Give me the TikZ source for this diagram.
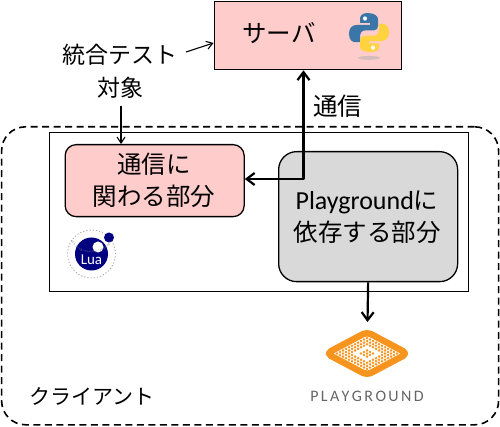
\documentclass[tikz,border=0pt]{standalone}
\usepackage{fontspec}
\setmainfont{Noto Sans CJK JP}
\newfontfamily\latinfont{Carlito}
\usetikzlibrary{arrows.meta,shapes.geometric,decorations.text}
\definecolor{pinkbox}{HTML}{FFCCCC}
\definecolor{graybox}{HTML}{D9D9D9}
\definecolor{luablue}{HTML}{000080}
\definecolor{pgorange}{HTML}{F7941E}
\definecolor{pyblue}{HTML}{3B76A8}
\definecolor{pyyellow}{HTML}{FFD33F}
\tikzset{
  lbl/.style={align=center,font=\fontsize{24.5}{32}\selectfont,text=black,inner sep=0pt},
  thinarrow/.style={draw=black,line width=1.1pt,-{Straight Barb[length=6pt,width=8pt]}},
  thickarrow/.style={draw=black,line width=2.2pt,-{Straight Barb[length=8pt,width=12pt]}},
  bothwide/.style={draw=black,line width=2.2pt,line join=round,{Straight Barb[length=8pt,width=12pt]}-{Straight Barb[length=8pt,width=12pt]}},
  boxline/.style={draw=black,line width=1.3pt},
}
\begin{document}
\begin{tikzpicture}[x=1pt,y=-1pt]
\useasboundingbox (0,0) rectangle (500,427);
\fill[white] (0,0) rectangle (500,427);
% client region
\node[boxline,dash pattern=on 7pt off 4.5pt,line width=1.6pt,rounded corners=24pt,minimum width=497pt,minimum height=298pt,anchor=north west,inner sep=0pt] (client) at (0.8,126) {};
\node[boxline,minimum width=419pt,minimum height=159pt,anchor=north west,inner sep=0pt] (inner) at (49,132) {};
% server
\node[boxline,fill=pinkbox,minimum width=187pt,minimum height=68pt,anchor=north west,inner sep=0pt] (server) at (213.5,1) {};
\node[lbl] (servertext) at (279,33) {サーバ};
% comm part
\node[boxline,fill=pinkbox,rounded corners=11pt,minimum width=179pt,minimum height=72pt,anchor=north west,inner sep=0pt] (comm) at (64.5,144) {};
\node[lbl] (commtext) at (154,180) {通信に\\関わる部分};
% playground part
\node[boxline,fill=graybox,rounded corners=18pt,minimum width=179pt,minimum height=130pt,anchor=north west,inner sep=0pt] (pgpart) at (278,151) {};
\node[lbl] (pgtext) at (367,217) {{\latinfont\fontsize{26}{32}\selectfont Playground}に\\依存する部分};
% labels
\node[lbl,font=\fontsize{23}{33}\selectfont] (target) at (120,71) {統合テスト\\対象};
\node[lbl] (tsushin) at (337.5,106) {通信};
\node[lbl,font=\fontsize{21}{24}\selectfont] (clientlabel) at (92,396) {クライアント};
% connectors
\coordinate (tgtA) at (186,52);
\coordinate (tgtB) at (121,106);
\draw[thinarrow] (tgtA) -- (server.west |- 0,43);
\draw[thinarrow] (tgtB) -- (comm.north -| tgtB);
\coordinate (srv) at (303.5,69);
\draw[bothwide] (server.south -| srv) -- (303.5,179) -- (comm.east |- 0,179);
\coordinate (pgtop) at (367.5,322);
\draw[thickarrow] (pgpart.south) -- (pgtop);
% Python logo
\begin{scope}[shift={(369,32.5)},yscale=1.08]
 \fill[pyblue] (-1,-18) .. controls (-8,-18) and (-9,-15) .. (-9,-12) -- (-9,-9) -- (1,-9) -- (1,-7) -- (-12,-7) .. controls (-17,-7) and (-20,-4) .. (-20,1) .. controls (-20,7) and (-17,9) .. (-13,9) -- (-9,9) -- (-9,4) .. controls (-9,0) and (-7,-2) .. (-3,-2) -- (5,-2) .. controls (8,-2) and (9,-4) .. (9,-6) -- (9,-12) .. controls (9,-15) and (6,-18) .. (-1,-18) -- cycle;
 \fill[pyyellow] (1,18) .. controls (8,18) and (10,16) .. (10,13) -- (10,10) -- (0,10) -- (0,8) -- (12,8) .. controls (17,8) and (20,5) .. (20,0) .. controls (20,-6) and (17,-8) .. (13,-8) -- (10,-8) -- (10,-3) .. controls (10,1) and (8,3) .. (4,3) -- (-4,3) .. controls (-7,3) and (-9,5) .. (-9,7) -- (-9,13) .. controls (-9,16) and (-6,18) .. (1,18) -- cycle;
 \fill[white] (-4,-13) circle (2pt);
 \fill[white] (4,14) circle (2pt);
 \fill[gray!60,opacity=.55] (0,23.5) ellipse (11pt and 1.8pt);
\end{scope}
% Lua logo
\begin{scope}[shift={(91.5,254)}]
 \draw[gray!70,line width=.8pt,dash pattern=on 1.2pt off 2pt] (0,0) circle (24pt);
 \fill[luablue] (0,0) circle (16.5pt);
 \fill[white] (6.5,-7) circle (5.5pt);
 \fill[luablue] (17.5,-16.5) circle (5pt);
 \node[inner sep=0pt,text=white,font=\latinfont\fontsize{15}{15}\selectfont] (lualabel) at (0,6) {Lua};
 \path[postaction={decorate,decoration={text along path,text align={fit to path},text={|\latinfont\fontsize{3}{3}\selectfont\color{gray}|the programming language}}}] (-20.5,-12.5) arc[start angle=-148,end angle=-35,radius=24pt];
\end{scope}
% Playground logo
\begin{scope}[shift={(367,353.5)}]
 \draw[pgorange,fill=white,line width=6.5pt,line join=round,rounded corners=5pt] (0,-21.5) -- (40.5,0) -- (0,21.5) -- (-40.5,0) -- cycle;
 \foreach \i in {-5,...,5} \foreach \j in {-5,...,5} {
   \pgfmathtruncatemacro{\skipdot}{(abs(\i)==2 && abs(\j)<=2) || (abs(\j)==2 && abs(\i)<=2) ? 1 : 0}
   \ifnum\skipdot=0
     \fill[pgorange] ({(\i-\j)*3},{(\i+\j)*1.55}) circle (1.4pt);
   \fi
 }
 \node[inner sep=0pt,text=gray!80!black,font=\latinfont\fontsize{16}{16}\selectfont] (pglabel) at (0,42.5) {P\kern2.4pt L\kern2.4pt A\kern2.4pt Y\kern2.4pt G\kern2.4pt R\kern2.4pt O\kern2.4pt U\kern2.4pt N\kern2.4pt D};
\end{scope}
\end{tikzpicture}
\end{document}
